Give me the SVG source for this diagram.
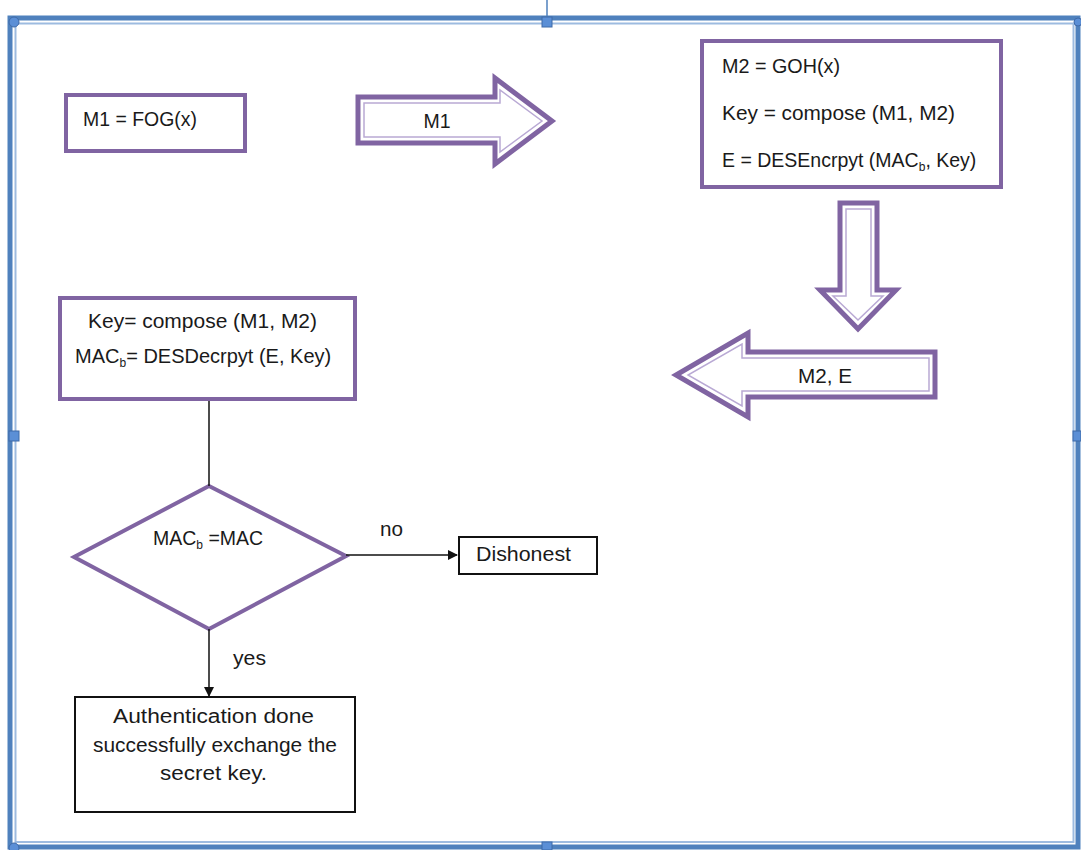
<svg xmlns="http://www.w3.org/2000/svg" width="1081" height="850" viewBox="0 0 1081 850">
<defs>
<style>
.t{font-family:"Liberation Sans",Arial,sans-serif;font-size:19.5px;fill:#1a1a1a}
.box{fill:#fff;stroke:#8064a2;stroke-width:4}
.blk{fill:#fff;stroke:#111;stroke-width:2}
.arr{fill:#fff;stroke:#8064a2;stroke-width:5;stroke-linejoin:miter}
.arrin{fill:none;stroke:#b9a9d4;stroke-width:1.5}
.ln{fill:none;stroke:#111;stroke-width:1.5}
.hd{fill:#5b8fd6;stroke:#3f6aa8;stroke-width:1}
.sub{font-size:12px}
</style>
<marker id="ah" markerWidth="10" markerHeight="10" refX="9" refY="5" orient="auto" markerUnits="userSpaceOnUse">
<path d="M0,0 L10,5 L0,10 Z" fill="#111"/>
</marker>
</defs>
<rect width="1081" height="850" fill="#fff"/>
<g id="frame">
<line x1="547" y1="0" x2="547" y2="18" stroke="#4f81bd" stroke-width="1.5"/>
<rect x="10" y="18" width="1068" height="829" fill="none" stroke="#4f81bd" stroke-width="5"/>
<rect x="15.5" y="23.5" width="1058" height="818.5" fill="none" stroke="#9dbbe0" stroke-width="2"/>
<circle class="hd" cx="14" cy="22" r="5"/>
<circle class="hd" cx="14" cy="848" r="5"/>
<circle class="hd" cx="1078" cy="22" r="4"/>
<rect class="hd" x="542" y="17" width="10" height="10"/>
<rect class="hd" x="9" y="431" width="10" height="10"/>
<rect class="hd" x="1073" y="431" width="8" height="10"/>
<rect class="hd" x="542" y="842" width="10" height="8"/>
</g>
<g id="m1box">
<rect class="box" x="66" y="95" width="179" height="56"/>
<text class="t" x="83" y="126" textLength="114" lengthAdjust="spacingAndGlyphs">M1 = FOG(x)</text>
</g>
<g id="arrowM1">
<path class="arr" d="M358,97 H495 V78 L552,121 L495,164 V143 H358 Z"/>
<path class="arrin" d="M364,103 H500 V90 L542,121 L500,152 V137 H364 Z"/>
<text class="t" x="437" y="128" text-anchor="middle">M1</text>
</g>
<g id="m2box">
<rect class="box" x="702" y="41" width="299" height="146"/>
<text class="t" x="722" y="73" textLength="118" lengthAdjust="spacingAndGlyphs">M2 = GOH(x)</text>
<text class="t" x="722" y="120" textLength="233" lengthAdjust="spacingAndGlyphs">Key = compose (M1, M2)</text>
<text class="t" x="722" y="167">E = DESEncrpyt (MAC<tspan class="sub" dy="4">b</tspan><tspan dy="-4">, Key)</tspan></text>
</g>
<g id="arrowDown">
<path class="arr" d="M840,203 H877 V290 H896 L858,329 L820,290 H840 Z"/>
<path class="arrin" d="M846,209 H871 V296 H883 L858,320 L833,296 H846 Z"/>
</g>
<g id="arrowM2E">
<path class="arr" d="M935,352 H748 V333 L676,375 L748,417 V397 H935 Z"/>
<path class="arrin" d="M929,358 H742 V344 L688,375 L742,406 V391 H929 Z"/>
<text class="t" x="825" y="383" text-anchor="middle" textLength="54" lengthAdjust="spacingAndGlyphs">M2, E</text>
</g>
<g id="keybox">
<rect class="box" x="60" y="298" width="295" height="101"/>
<text class="t" x="88" y="328" textLength="229" lengthAdjust="spacingAndGlyphs">Key= compose (M1, M2)</text>
<text class="t" x="75" y="363" style="font-size:20px">MAC<tspan class="sub" dy="4">b</tspan><tspan dy="-4">= DESDecrpyt (E, Key)</tspan></text>
</g>
<g id="decision">
<path class="box" d="M209,486 L346,556 L209,629 L74,557 Z"/>
<text class="t" x="153" y="545">MAC<tspan class="sub" dy="4">b</tspan><tspan dy="-4"> =MAC</tspan></text>
</g>
<g id="dishonest">
<rect class="blk" x="459" y="537" width="138" height="37"/>
<text class="t" x="476" y="561" textLength="95" lengthAdjust="spacingAndGlyphs">Dishonest</text>
</g>
<g id="authbox">
<rect class="blk" x="75" y="697" width="280" height="115"/>
<text class="t" x="113" y="723" textLength="201" lengthAdjust="spacingAndGlyphs">Authentication done</text>
<text class="t" x="93" y="752" textLength="244" lengthAdjust="spacingAndGlyphs">successfully exchange the</text>
<text class="t" x="160" y="780" textLength="107" lengthAdjust="spacingAndGlyphs">secret key.</text>
</g>
<g id="connectors">
<line class="ln" x1="209" y1="401" x2="209" y2="486"/>
<line class="ln" x1="346" y1="555" x2="457" y2="555" marker-end="url(#ah)"/>
<line class="ln" x1="209" y1="629" x2="209" y2="696" marker-end="url(#ah)"/>
<text class="t" x="380" y="536" textLength="23" lengthAdjust="spacingAndGlyphs">no</text>
<text class="t" x="233" y="665" textLength="33" lengthAdjust="spacingAndGlyphs">yes</text>
</g>
</svg>
